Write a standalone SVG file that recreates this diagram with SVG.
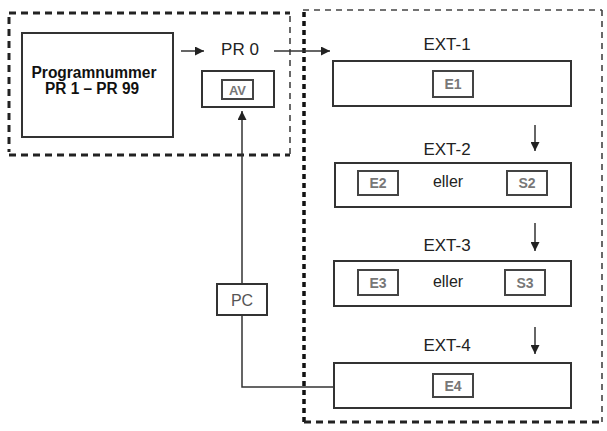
<svg xmlns="http://www.w3.org/2000/svg" width="607" height="431" viewBox="0 0 607 431">
<defs>
<style>
.box{fill:#fff;stroke:#333;stroke-width:2}
.ibox{fill:none;stroke:#444;stroke-width:2}
.lbl{font-family:"Liberation Sans",Arial,sans-serif;font-size:17px;fill:#222;text-anchor:middle}
.tag{font-family:"Liberation Sans",Arial,sans-serif;font-size:14px;font-weight:bold;fill:#777;text-anchor:middle}
.bold{font-family:"Liberation Sans",Arial,sans-serif;font-size:16px;font-weight:bold;fill:#111;text-anchor:middle}
.ln{fill:none;stroke:#333;stroke-width:1.5}
.dthick{fill:none;stroke:#222;stroke-width:3;stroke-dasharray:7 5}
.dthin{fill:none;stroke:#444;stroke-width:1.6;stroke-dasharray:6 5}
.dvert{fill:none;stroke:#111;stroke-width:3.5;stroke-dasharray:5 4}
</style>
<marker id="ah" viewBox="0 0 10 10" refX="10" refY="5" markerWidth="10" markerHeight="9" markerUnits="userSpaceOnUse" orient="auto">
<path d="M0,0 L10,5 L0,10 z" fill="#222"/>
</marker>
</defs>

<g id="frames">
<path class="dthick" d="M9,13 H290"/>
<path class="dthick" d="M9,155 H290"/>
<path class="dthick" d="M9,17 V152" stroke-dasharray="5 6"/>
<path class="dthin" d="M290,16 V155"/>
<path class="dthin" d="M303,10 H602"/>
<path class="dthin" d="M602,10 V422"/>
<path class="dvert" d="M304,12 V422"/>
<path class="dthick" d="M304,422 H602"/>
</g>

<g id="connectors">
<path class="ln" d="M181,51 H204" marker-end="url(#ah)"/>
<path class="ln" d="M274,51 H330" marker-end="url(#ah)"/>
<path class="ln" d="M242,284 V111" marker-end="url(#ah)"/>
<path class="ln" d="M242,315 V387 H333"/>
<path class="ln" d="M535,125 V151" marker-end="url(#ah)"/>
<path class="ln" d="M535,223 V251" marker-end="url(#ah)"/>
<path class="ln" d="M535,327 V354" marker-end="url(#ah)"/>
</g>

<g id="programnummer">
<rect class="box" x="22" y="33" width="151" height="104"/>
<text class="bold" x="94" y="78" textLength="125" lengthAdjust="spacingAndGlyphs">Programnummer</text>
<text class="bold" x="92" y="94" textLength="94" lengthAdjust="spacingAndGlyphs">PR 1 – PR 99</text>
</g>

<g id="pr0">
<text class="lbl" x="240" y="55">PR 0</text>
</g>

<g id="av">
<rect class="box" x="202" y="71" width="72" height="36"/>
<rect class="ibox" x="222" y="80" width="31" height="19"/>
<text class="tag" x="237.5" y="95" style="font-size:13px">AV</text>
</g>

<g id="pc">
<rect class="box" x="217" y="284" width="50" height="31"/>
<text class="lbl" x="242" y="306" style="fill:#555;font-size:16px">PC</text>
</g>

<g id="ext1">
<text class="lbl" x="447" y="50">EXT-1</text>
<rect class="box" x="333" y="61" width="238" height="45"/>
<rect class="ibox" x="433" y="71" width="40" height="26"/>
<text class="tag" x="453" y="89">E1</text>
</g>

<g id="ext2">
<text class="lbl" x="447" y="155">EXT-2</text>
<rect class="box" x="335" y="163" width="236" height="44"/>
<rect class="ibox" x="358" y="171" width="40" height="24"/>
<text class="tag" x="378" y="188">E2</text>
<text class="lbl" x="448" y="187" style="font-size:16px">eller</text>
<rect class="ibox" x="507" y="171" width="40" height="24"/>
<text class="tag" x="527" y="188">S2</text>
</g>

<g id="ext3">
<text class="lbl" x="447" y="251">EXT-3</text>
<rect class="box" x="334" y="261" width="237" height="45"/>
<rect class="ibox" x="358" y="270" width="40" height="25"/>
<text class="tag" x="378" y="288">E3</text>
<text class="lbl" x="448" y="287" style="font-size:16px">eller</text>
<rect class="ibox" x="505" y="270" width="40" height="25"/>
<text class="tag" x="525" y="288">S3</text>
</g>

<g id="ext4">
<text class="lbl" x="447" y="351">EXT-4</text>
<rect class="box" x="334" y="363" width="237" height="45"/>
<rect class="ibox" x="433" y="374" width="40" height="23"/>
<text class="tag" x="453" y="391">E4</text>
</g>
</svg>
